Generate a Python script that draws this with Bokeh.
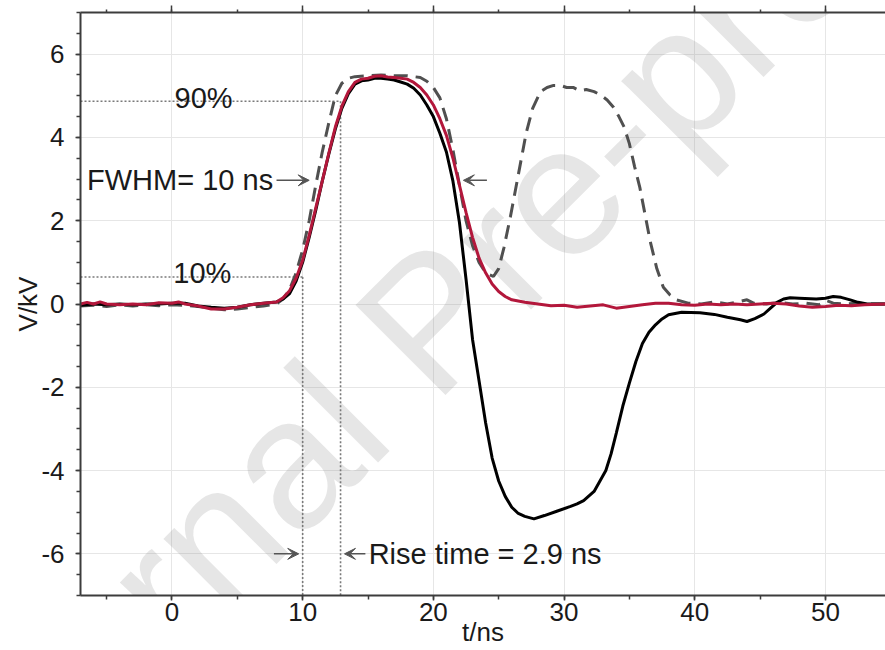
from bokeh.plotting import figure
from bokeh.models import (Range1d, LinearAxis, SingleIntervalTicker, Label, Arrow, VeeHead,
                          CustomJSTickFormatter)
from bokeh.embed import file_html
from bokeh.resources import INLINE

# ---------------- data ----------------
t_black = [-7, -6, -5, -4, -3, -2, -1, 0, 1, 2, 3, 4, 5, 6, 7, 8, 8.5, 9, 9.5, 10, 10.5, 11, 11.5, 12,
           12.5, 13, 13.5, 14, 14.5, 15, 15.5, 16, 16.5, 17, 17.5, 18, 18.5, 19, 19.5, 20, 20.5, 21,
           21.5, 22, 22.5, 23, 23.5, 24, 24.5, 25, 25.5, 26, 26.5, 27, 27.7, 28.5, 29.5, 30.5, 31,
           31.5, 32.3, 33.2, 33.6, 34, 34.5, 35, 35.5, 36, 36.5, 37, 37.5, 38, 39, 40.4, 41.5, 42.5,
           43.5, 44, 44.6, 45.3, 45.8, 46.3, 46.8, 47.3, 48, 49.3, 50, 50.6, 51.2, 51.9, 52.5, 53.2,
           54, 54.6]
v_black = [-0.03, 0.0, -0.02, 0.0, -0.02, 0.0, 0.0, 0.02, 0.02, -0.05, -0.08, -0.1, -0.08, -0.02,
           0.02, 0.05, 0.12, 0.25, 0.55, 1.0, 1.6, 2.25, 2.95, 3.6, 4.2, 4.7, 5.05, 5.28, 5.36, 5.38,
           5.42, 5.42, 5.40, 5.38, 5.33, 5.28, 5.18, 5.02, 4.78, 4.5, 4.1, 3.65, 2.95, 1.95, 0.6,
           -0.85, -1.85, -2.85, -3.7, -4.25, -4.62, -4.88, -5.03, -5.1, -5.16, -5.08, -4.97, -4.86,
           -4.80, -4.72, -4.5, -4.0, -3.6, -3.1, -2.45, -1.9, -1.38, -0.95, -0.68, -0.5, -0.36, -0.26,
           -0.2, -0.21, -0.25, -0.32, -0.38, -0.42, -0.35, -0.24, -0.1, 0.04, 0.12, 0.15, 0.14, 0.12,
           0.14, 0.18, 0.16, 0.1, 0.04, 0.0, 0.0, 0.0]

t_red = [-7, -6.5, -6, -5.5, -5, -4, -3, -2, -1, 0, 0.5, 1, 2, 3, 4, 5, 6, 7, 8, 8.5, 9, 9.5, 10,
         10.5, 11, 11.5, 12, 12.5, 13, 13.5, 14, 14.5, 15, 15.5, 16, 16.5, 17, 17.5, 18, 18.5, 19,
         19.5, 20, 20.5, 21, 21.5, 22, 22.5, 23, 23.5, 24, 24.5, 25, 25.5, 26, 27, 28, 29, 30, 31,
         32, 33, 34, 35, 36, 37, 38, 39, 40, 41, 42, 43, 44, 45, 46, 47, 48, 49, 50, 51, 52, 53, 54.6]
v_red = [0.0, 0.04, 0.0, 0.05, 0.0, -0.02, 0.0, -0.02, 0.03, 0.02, 0.05, 0.0, -0.05, -0.12, -0.12,
         -0.08, -0.02, 0.02, 0.05, 0.15, 0.32, 0.62, 1.05, 1.65, 2.3, 2.95, 3.62, 4.25, 4.75, 5.1,
         5.32, 5.4, 5.42, 5.47, 5.48, 5.45, 5.44, 5.42, 5.4, 5.32, 5.2, 5.02, 4.78, 4.45, 4.05, 3.5,
         2.85, 2.2, 1.6, 1.1, 0.75, 0.48, 0.3, 0.18, 0.1, 0.04, 0.0, -0.04, -0.03, -0.08, -0.05,
         -0.02, -0.1, -0.06, -0.02, 0.02, 0.02, -0.02, -0.03, 0.0, -0.02, 0.0, -0.02, 0.0, 0.02, 0.0,
         -0.05, -0.08, -0.06, -0.03, -0.04, -0.02, 0.0]

t_dash = [-7, -6, -5, -4, -3, -2, -1, 0, 1, 2, 3, 4, 5, 6, 7, 8, 8.5, 9, 9.5, 10, 10.5, 11, 11.5,
          12, 12.5, 13, 13.5, 14, 15, 16, 17, 18, 19, 19.5, 20, 20.5, 21, 21.5, 22, 22.5, 23, 23.5,
          24, 24.6, 25, 25.4, 25.9, 26.5, 27.1, 27.6, 28.2, 28.7, 29.2, 29.7, 30.2, 30.7, 31.2,
          31.7, 32.3, 32.8, 33.3, 33.8, 34.2, 34.6, 35, 35.4, 35.8, 36.2, 36.6, 37.1, 37.6, 38.1,
          38.6, 39.5, 40.5, 41.5, 42.5, 43.3, 44, 44.5, 45.5, 46.5, 47.5, 48.5, 49.5, 50.1, 50.6,
          51.5, 52.5, 53.5, 54.6]
v_dash = [-0.05, -0.03, -0.06, -0.02, -0.05, -0.02, -0.04, -0.02, -0.03, -0.06, -0.1, -0.14, -0.12,
          -0.08, -0.05, 0.0, 0.12, 0.35, 0.75, 1.3, 2.0, 2.85, 3.65, 4.35, 5.0, 5.3, 5.42, 5.46,
          5.48, 5.5, 5.48, 5.48, 5.44, 5.35, 5.2, 4.95, 4.45, 3.7, 2.85, 2.0, 1.4, 1.0, 0.75, 0.66,
          0.85, 1.35, 2.1, 3.1, 4.1, 4.7, 5.1, 5.2, 5.25, 5.25, 5.2, 5.2, 5.12, 5.15, 5.1, 5.02,
          4.9, 4.72, 4.5, 4.25, 3.85, 3.3, 2.8, 2.15, 1.5, 0.85, 0.4, 0.22, 0.1, 0.02, 0.0, 0.05,
          0.0, 0.05, 0.1, 0.02, 0.0, 0.04, 0.0, 0.02, -0.02, 0.08, 0.02, 0.0, 0.02, 0.0, 0.0]

# reference levels / times for the annotations
level_10 = 0.65
level_90 = 4.87
t_10 = 10.0
t_90 = 12.9
fwhm_y = 2.97
fwhm_left = [8.0, 10.5]
fwhm_right = [24.1, 22.3]
rise_y = -6.0
rise_left = [7.8, 9.7]
rise_right = [14.8, 13.2]

x_ticks = [0, 10, 20, 30, 40, 50]
y_ticks = [-6, -4, -2, 0, 2, 4, 6]

FONT = "Liberation Sans"
TXT = "#1a1a1a"
AX = "#3c3c3c"

p = figure(width=885, height=650, output_backend="svg", toolbar_location=None,
           x_range=Range1d(-7.0, 54.6), y_range=Range1d(-7, 7),
           min_border_left=80, min_border_right=0, min_border_top=12, min_border_bottom=55,
           x_axis_label="t/ns", y_axis_label="V/kV")
p.outline_line_color = None
p.background_fill_color = "white"
p.border_fill_color = "white"

# axes
p.xaxis.ticker = SingleIntervalTicker(interval=10, num_minor_ticks=2)
p.yaxis.ticker = SingleIntervalTicker(interval=2, num_minor_ticks=4)
p.yaxis.major_label_overrides = {v: str(v) for v in y_ticks}
p.xaxis.major_label_overrides = {v: str(v) for v in x_ticks}
for ax in (p.xaxis[0], p.yaxis[0]):
    ax.axis_line_color = AX
    ax.axis_line_width = 2
    ax.major_tick_line_color = AX
    ax.minor_tick_line_color = AX
    ax.major_tick_line_width = 1.5
    ax.minor_tick_line_width = 1.5
    ax.major_tick_in = 0
    ax.minor_tick_in = 0
    ax.major_tick_out = 5
    ax.minor_tick_out = 4
    ax.major_label_text_font = FONT
    ax.major_label_text_font_size = "26px"
    ax.major_label_text_color = TXT
    ax.axis_label_text_font = FONT
    ax.axis_label_text_font_size = "26px"
    ax.axis_label_text_font_style = "normal"
    ax.axis_label_text_color = TXT
p.xaxis.major_label_standoff = 2
p.xaxis.axis_label_standoff = -7
p.yaxis.major_label_standoff = 11
p.yaxis.axis_label_standoff = -5

top = LinearAxis(ticker=SingleIntervalTicker(interval=10, num_minor_ticks=2),
                 formatter=CustomJSTickFormatter(code="return ''"),
                 major_label_text_font_size="1px", major_label_standoff=0,
                 axis_line_color=AX, axis_line_width=2,
                 major_tick_line_color=AX, minor_tick_line_color=AX,
                 major_tick_line_width=1.5, minor_tick_line_width=1.5,
                 major_tick_in=0, minor_tick_in=0, major_tick_out=7, minor_tick_out=3)
p.add_layout(top, "above")

p.xgrid.grid_line_color = "#e6e6e6"
p.ygrid.grid_line_color = "#e6e6e6"
p.xgrid.grid_line_width = 1
p.ygrid.grid_line_width = 1

# watermark
p.add_layout(Label(x=19.7, y=-0.4, text="Journal Pre-proof", angle=45, angle_units="deg",
                   text_align="center", text_baseline="middle", text_font=FONT,
                   text_font_size="185px", text_color="#808080", text_alpha=0.2,
                   level="underlay"))

# guide lines (dotted)
GC = "#7a7a7a"
p.line([-7, t_90], [level_90, level_90], line_color=GC, line_width=1.6, line_dash="2 2")
p.line([-7, t_10], [level_10, level_10], line_color=GC, line_width=1.6, line_dash="2 2")
p.line([t_10, t_10], [level_10, -7], line_color=GC, line_width=1.6, line_dash="2 2")
p.line([t_90, t_90], [level_90, -7], line_color=GC, line_width=1.6, line_dash="2 2")

# curves
p.line(t_dash, v_dash, line_color="#505050", line_width=3, line_dash="14 8")
p.line(t_black, v_black, line_color="#000000", line_width=3)
p.line(t_red, v_red, line_color="#b3173b", line_width=3)

# arrows
AC = "#555555"
for xs, ys in ((fwhm_left, fwhm_y), (fwhm_right, fwhm_y), (rise_left, rise_y), (rise_right, rise_y)):
    p.add_layout(Arrow(end=VeeHead(size=11, fill_color=AC, line_color=AC, line_width=1),
                       x_start=xs[0], y_start=ys, x_end=xs[1], y_end=ys,
                       line_color=AC, line_width=1.5))

# text annotations
for x, y, s in ((0.2, 4.95, "90%"), (0.1, 0.75, "10%"), (-6.5, 2.97, "FWHM= 10 ns"),
                (15.05, -6.0, "Rise time = 2.9 ns")):
    p.add_layout(Label(x=x, y=y, text=s, text_font=FONT, text_font_size="29px",
                       text_color=TXT, text_baseline="alphabetic", text_align="left"))

html = file_html(p, INLINE)
open("out.html", "w").write(html)
